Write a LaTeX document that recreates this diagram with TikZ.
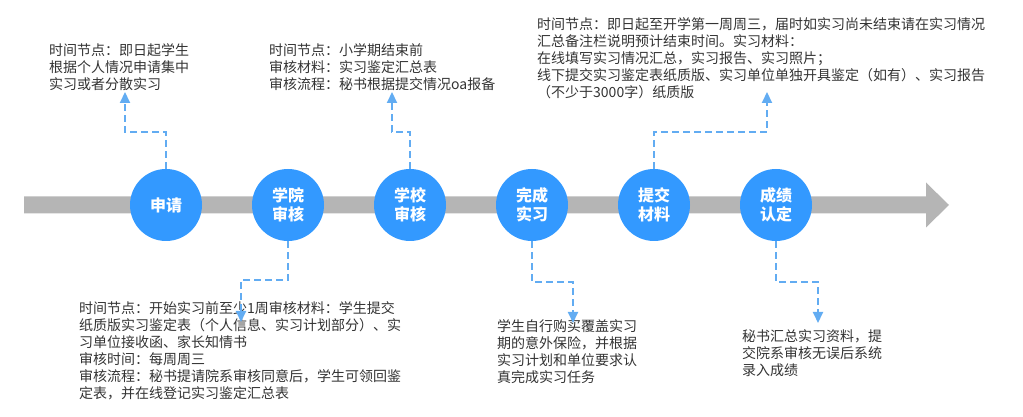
\documentclass[tikz,border=0pt]{standalone}
\usepackage{fontspec}
\setmainfont{Noto Sans CJK SC}
\usetikzlibrary{arrows.meta,positioning}
\definecolor{stageblue}{HTML}{3399FF}
\definecolor{linkblue}{HTML}{62ACF2}
\definecolor{bargray}{HTML}{B5B5B5}
\definecolor{notegray}{HTML}{333333}
\tikzstyle{stage} = [circle, fill=stageblue, text=white, minimum size=72pt, inner sep=0pt, align=center, font=\bfseries\fontsize{16pt}{19pt}\selectfont]
\tikzstyle{note} = [anchor=north west, inner sep=0pt, align=left, text=notegray, font=\fontsize{14pt}{17pt}\selectfont]
\tikzstyle{link} = [linkblue, line width=2pt, dash pattern=on 7pt off 4pt, -{Triangle[length=11pt,width=10pt]}]
\begin{document}
\begin{tikzpicture}[x=1pt,y=1pt]
      \useasboundingbox (0,0) rectangle (1023,417);
      % time axis
      \fill[bargray] (24,203.5) -- (926,203.5) -- (926,189.5) -- (949,212)
        -- (926,234.5) -- (926,220.5) -- (24,220.5) -- cycle;

      \node[stage] (apply) at (166,212) {申请};
      \node[stage] (college) at (288,212) {学院\\审核};
      \node[stage] (school) at (410,212) {学校\\审核};
      \node[stage] (finish) at (532,212) {完成\\实习};
      \node[stage] (submit) at (654,212) {提交\\材料};
      \node[stage] (grade) at (776,212) {成绩\\认定};

      \node[note] (applyText) at (49,374) {时间节点：即日起学生\\根据个人情况申请集中\\实习或者分散实习};
      \node[note] (schoolText) at (269,374) {时间节点：小学期结束前\\审核材料：实习鉴定汇总表\\审核流程：秘书根据提交情况oa报备};
      \node[note] (submitText) at (537,400) {时间节点：即日起至开学第一周周三，届时如实习尚未结束请在实习情况\\汇总备注栏说明预计结束时间。实习材料：\\在线填写实习情况汇总，实习报告、实习照片；\\线下提交实习鉴定表纸质版、实习单位单独开具鉴定（如有）、实习报告\\（不少于3000字）纸质版};
      \node[note] (collegeText) at (79,116) {时间节点：开始实习前至少1周审核材料：学生提交\\纸质版实习鉴定表（个人信息、实习计划部分）、实\\习单位接收函、家长知情书\\审核时间：每周周三\\审核流程：秘书提请院系审核同意后，学生可领回鉴\\定表，并在线登记实习鉴定汇总表};
      \node[note] (finishText) at (497,98) {学生自行购买覆盖实习\\期的意外保险，并根据\\实习计划和单位要求认\\真完成实习任务};
      \node[note] (gradeText) at (742,88) {秘书汇总实习资料，提\\交院系审核无误后系统\\录入成绩};

      % arrow ends
      \coordinate (applyTip) at (125,325);
      \coordinate (schoolTip) at (392,325);
      \coordinate (submitTip) at (767,325);
      \coordinate (collegeTip) at (241,95);
      \coordinate (finishTip) at (573,94);
      \coordinate (gradeTip) at (818,94);

      \draw[link] (apply.north) -- ++(0,37) -| (applyTip);
      \draw[link] (school.north) -- ++(0,37) -| (schoolTip);
      \draw[link] (submit.north) -- ++(0,37) -| (submitTip);
      \draw[link] (college.south) -- ++(0,-39) -| (collegeTip);
      \draw[link] (finish.south) -- ++(0,-41) -| (finishTip);
      \draw[link] (grade.south) -- ++(0,-41) -| (gradeTip);
    \end{tikzpicture}
\end{document}
